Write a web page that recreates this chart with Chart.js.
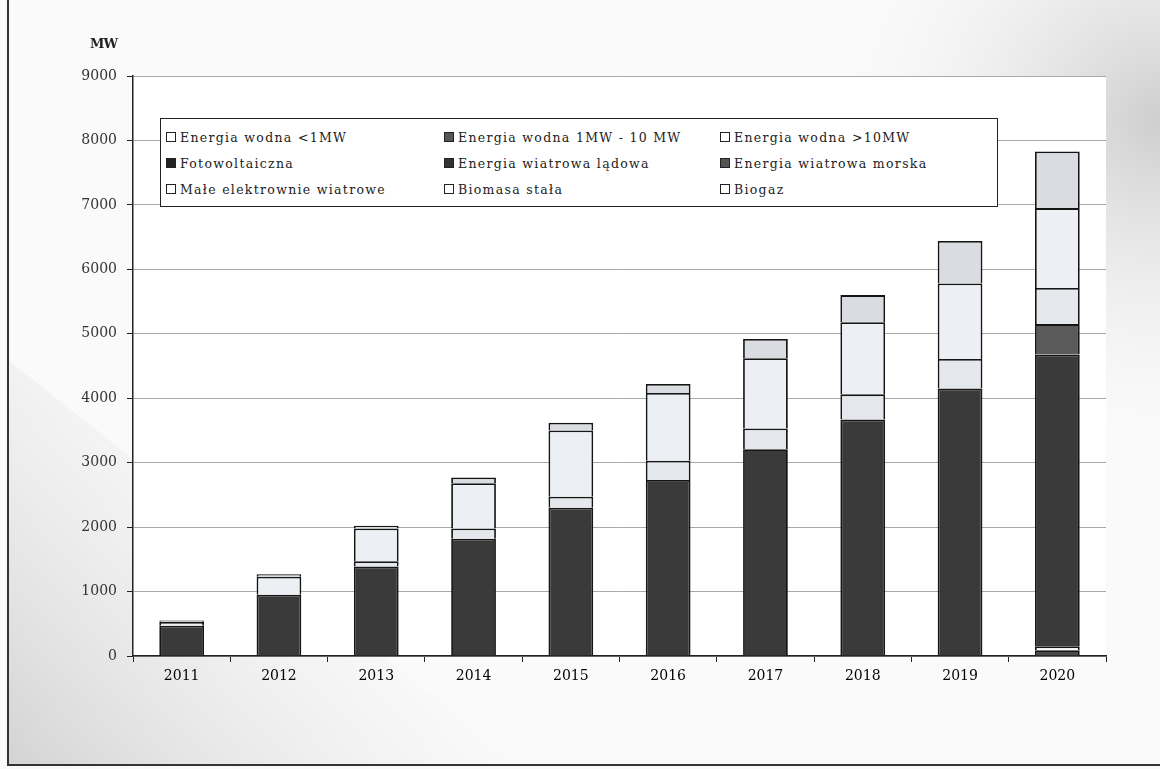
<!DOCTYPE html>
<html>
<head>
<meta charset="utf-8">
<script src="https://cdn.jsdelivr.net/npm/chart.js@4.4.1/dist/chart.umd.min.js"></script>
<style>
  html, body { margin: 0; padding: 0; background: #fafafa; }
  #wrap { position: relative; width: 1160px; height: 769px; }
  #unit {
    position: absolute; left: 90px; top: 36px;
    font: bold 13px "DejaVu Serif", serif; color: #222; letter-spacing: -1px;
  }
  #legend {
    position: absolute; left: 160px; top: 118px; width: 838px; height: 89px;
    border: 1.5px solid #222; background: #fff;
    display: grid; grid-template-columns: 278px 276px 280px;
    grid-auto-rows: 26px; padding-top: 5px; box-sizing: border-box;
    font: 12.5px "DejaVu Serif", serif; color: #222; letter-spacing: 1.3px;
  }
  .item { display: flex; align-items: center; padding-left: 5px; white-space: nowrap; }
  .box { width: 8px; height: 8px; border: 1px solid #222; margin-right: 4px; flex: none; }
</style>
</head>
<body>
<div id="wrap">
  <canvas id="myChart" width="1160" height="769"></canvas>
  <div id="unit">MW</div>
  <div id="legend"></div>
</div>
<script>
const years = ['2011', '2012', '2013', '2014', '2015', '2016', '2017', '2018', '2019', '2020']
const yTicks = [0, 1000, 2000, 3000, 4000, 5000, 6000, 7000, 8000, 9000]

// MW, stacked in legend order
const hydroSmall = [0, 0, 0, 0, 0, 0, 0, 0, 0, 0]
const hydroMid = [0, 0, 0, 0, 0, 0, 0, 0, 0, 90]
const hydroLarge = [0, 0, 0, 0, 0, 0, 0, 0, 0, 60]
const solar = [0, 0, 0, 0, 0, 0, 0, 0, 0, 0]
const windOnshore = [470, 950, 1390, 1820, 2300, 2730, 3210, 3670, 4150, 4530]
const windOffshore = [0, 0, 0, 0, 0, 0, 0, 0, 0, 470]
const smallWind = [0, 0, 80, 160, 170, 300, 320, 390, 460, 560]
const biomass = [60, 280, 510, 700, 1030, 1050, 1090, 1120, 1170, 1240]
const biogas = [20, 40, 40, 90, 120, 140, 300, 420, 660, 880]

const seriesNames = [
  'Energia wodna <1MW',
  'Energia wodna 1MW - 10 MW',
  'Energia wodna >10MW',
  'Fotowoltaiczna',
  'Energia wiatrowa lądowa',
  'Energia wiatrowa morska',
  'Małe elektrownie wiatrowe',
  'Biomasa stała',
  'Biogaz'
]
const seriesData = [hydroSmall, hydroMid, hydroLarge, solar, windOnshore, windOffshore, smallWind, biomass, biogas]
const seriesColors = ['#fbfbfb', '#4a4a4a', '#fbfbfb', '#202020', '#3a3a3a', '#5a5a5a', '#e4e7ec', '#eceff3', '#d9dce0']
const markerColors = ['#fff', '#555', '#fff', '#222', '#333', '#555', '#fff', '#fff', '#fff']

const legend = document.getElementById('legend')
seriesNames.forEach((name, i) => {
  const item = document.createElement('div')
  item.className = 'item'
  const box = document.createElement('span')
  box.className = 'box'
  box.style.background = markerColors[i]
  item.appendChild(box)
  item.appendChild(document.createTextNode(name))
  legend.appendChild(item)
})

const background = {
  id: 'scanBackground',
  beforeDraw: chart => {
    const ctx = chart.ctx
    const { top, left, width, height } = chart.chartArea
    ctx.save()
    ctx.fillStyle = '#fafafa'
    ctx.fillRect(0, 0, 1160, 769)

    // grey wedge bottom-left
    let g = ctx.createLinearGradient(0, 769, 300, 500)
    g.addColorStop(0, '#d2d2d2')
    g.addColorStop(1, 'rgba(230,230,230,0)')
    ctx.fillStyle = g
    ctx.beginPath()
    ctx.moveTo(8, 360)
    ctx.lineTo(8, 765)
    ctx.lineTo(520, 765)
    ctx.closePath()
    ctx.fill()

    // grey corner top-right
    g = ctx.createRadialGradient(1160, 120, 10, 1160, 120, 320)
    g.addColorStop(0, '#d0d0d0')
    g.addColorStop(1, 'rgba(240,240,240,0)')
    ctx.fillStyle = g
    ctx.fillRect(780, 0, 380, 520)

    // page frame
    ctx.strokeStyle = '#333'
    ctx.lineWidth = 2
    ctx.beginPath()
    ctx.moveTo(8, 0)
    ctx.lineTo(8, 765)
    ctx.lineTo(1160, 765)
    ctx.stroke()

    ctx.fillStyle = '#ffffff'
    ctx.fillRect(left, top, width, height)
    ctx.restore()
  }
}

const data = {
  labels: years,
  datasets: seriesNames.map((name, i) => ({
    label: name,
    data: seriesData[i],
    backgroundColor: seriesColors[i],
    borderColor: '#151515',
    borderWidth: c => (c.raw ? 1.8 : 0),
    borderSkipped: 'start'
  }))
}

const config = {
  type: 'bar',
  data: data,
  plugins: [background],
  options: {
    responsive: false,
    animation: false,
    layout: { padding: { left: 0, right: 54, top: 76, bottom: 0 } },
    datasets: {
      bar: { categoryPercentage: 1, barPercentage: 0.46 }
    },
    plugins: {
      legend: { display: false },
      tooltip: { enabled: false }
    },
    scales: {
      x: {
        stacked: true,
        afterFit: scale => { scale.height = 113 },
        grid: {
          offset: true,
          drawOnChartArea: false,
          color: '#222',
          tickLength: 6
        },
        border: { color: '#222', width: 1.5 },
        ticks: {
          padding: 6,
          color: '#000',
          font: { family: 'DejaVu Serif', size: 14 }
        }
      },
      y: {
        stacked: true,
        min: 0,
        max: 9000,
        afterFit: scale => { scale.width = 133 },
        afterBuildTicks: scale => { scale.ticks = yTicks.map(v => ({ value: v })) },
        grid: {
          color: '#a8a8a8',
          tickColor: '#222',
          tickLength: 6
        },
        border: { color: '#222', width: 1.5 },
        ticks: {
          padding: 10,
          color: '#333',
          callback: value => String(value),
          font: { family: 'DejaVu Serif', size: 14 }
        }
      }
    }
  }
}

const ctx = document.getElementById('myChart')
const chart = new Chart(ctx, config)
</script>
</body>
</html>
